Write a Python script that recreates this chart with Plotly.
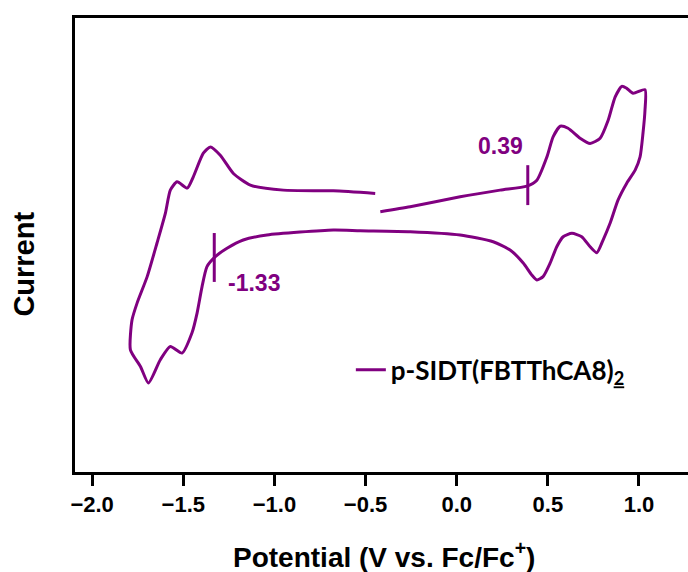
import plotly.graph_objects as go

# Cyclic voltammogram (potential in V vs Fc/Fc+, current in arbitrary units)
potential = [
    -0.419, -0.255, 0.019, 0.238, 0.385, 0.440, 0.495, 0.529, 0.568, 0.611,
    0.677, 0.732, 0.787, 0.831, 0.869, 0.906, 0.933, 0.968, 1.033,
    1.033, 1.022, 1.006, 0.979, 0.933, 0.885, 0.842, 0.803, 0.769, 0.732,
    0.686, 0.632, 0.584, 0.549, 0.513, 0.474, 0.440, 0.412, 0.365, 0.293,
    0.200, 0.019, -0.255, -0.529, -0.677, -1.041, -1.171, -1.260, -1.324,
    -1.370, -1.397, -1.424, -1.452, -1.507, -1.571, -1.626, -1.691, -1.735,
    -1.790, -1.781, -1.753, -1.698, -1.644, -1.598, -1.571, -1.534, -1.478,
    -1.445, -1.390, -1.351, -1.297, -1.225, -1.132, -0.951, -0.677, -0.447,
]
current = [
    26.23, 26.73, 27.73, 28.40, 28.80, 29.40, 31.73, 33.73, 34.80, 34.60,
    33.60, 33.07, 33.60, 35.40, 37.73, 38.80, 38.60, 38.10, 38.47,
    36.40, 34.10, 31.73, 30.40, 29.10, 27.40, 25.10, 23.40, 22.13, 22.73,
    23.73, 24.07, 23.73, 22.73, 21.10, 19.73, 19.40, 19.90, 21.10, 22.40,
    23.23, 23.90, 24.23, 24.33, 24.40, 23.90, 23.40, 22.57, 21.73,
    20.73, 18.73, 16.10, 14.10, 12.07, 12.73, 11.40, 9.07, 10.73,
    12.40, 15.40, 17.10, 19.73, 23.10, 26.10, 28.40, 29.23, 28.60,
    29.73, 32.10, 32.73, 31.90, 30.07, 28.90, 28.40, 28.33, 28.07,
]

# Onset markers
onset_ox = 0.39
onset_red = -1.33
onset_ox_span = [26.9, 30.9]
onset_red_span = [19.2, 24.1]

x_ticks = [-2.0, -1.5, -1.0, -0.5, 0.0, 0.5, 1.0]
series_name = "p-SIDT(FBTThCA8)<sub><u>2</u></sub>"

purple = "#800080"

fig = go.Figure()
fig.add_trace(go.Scatter(
    x=potential, y=current, mode="lines", name=series_name,
    line=dict(color=purple, width=3, shape="spline", smoothing=0.6),
    showlegend=True,
))
fig.add_trace(go.Scatter(
    x=[onset_ox, onset_ox], y=onset_ox_span, mode="lines",
    line=dict(color=purple, width=3), showlegend=False,
))
fig.add_trace(go.Scatter(
    x=[onset_red, onset_red], y=onset_red_span, mode="lines",
    line=dict(color=purple, width=3), showlegend=False,
))

fig.add_annotation(x=0.238, y=32.83, text="<b>0.39</b>", showarrow=False,
                   font=dict(family="Liberation Sans, Arial", size=23, color=purple),
                   xanchor="center", yanchor="middle")
fig.add_annotation(x=-1.111, y=19.07, text="<b>-1.33</b>", showarrow=False,
                   font=dict(family="Liberation Sans, Arial", size=23, color=purple),
                   xanchor="center", yanchor="middle")

fig.add_annotation(xref="paper", yref="paper", x=0.5045, y=-0.1835,
                   text="<b>Potential (V vs. Fc/Fc<sup>+</sup>)</b>", showarrow=False,
                   font=dict(family="Liberation Sans, Arial", size=28, color="black"),
                   xanchor="center", yanchor="middle")
fig.add_annotation(xref="paper", yref="paper", x=-0.0823, y=0.458,
                   text="<b>Current</b>", showarrow=False, textangle=-90,
                   font=dict(family="Liberation Sans, Arial", size=29, color="black"),
                   xanchor="center", yanchor="middle")

fig.update_layout(
    width=688, height=572,
    margin=dict(l=74.5, r=0, t=17.5, b=99.5),
    paper_bgcolor="white", plot_bgcolor="white",
    legend=dict(x=0.45, y=0.225, xanchor="left", yanchor="middle",
                bgcolor="rgba(0,0,0,0)",
                font=dict(family="Lato, Liberation Sans", size=26, color="black", weight="bold")),
    xaxis=dict(
        range=[-2.094, 1.269], tickvals=x_ticks, tickformat=".1f",
        showline=True, linecolor="black", linewidth=3, mirror=True,
        ticks="outside", ticklen=11, tickwidth=3, tickcolor="black",
        showgrid=False, zeroline=False,
        tickfont=dict(family="Liberation Sans, Arial", size=22, color="black", weight="bold"),
    ),
    yaxis=dict(
        range=[0.15, 45.65], showticklabels=False, ticks="",
        showline=True, linecolor="black", linewidth=3, mirror=False,
        showgrid=False, zeroline=False,
    ),
)

fig.write_html("out.html", config={"displayModeBar": False},
               post_script="document.body.style.margin='0';document.body.style.padding='0';")
